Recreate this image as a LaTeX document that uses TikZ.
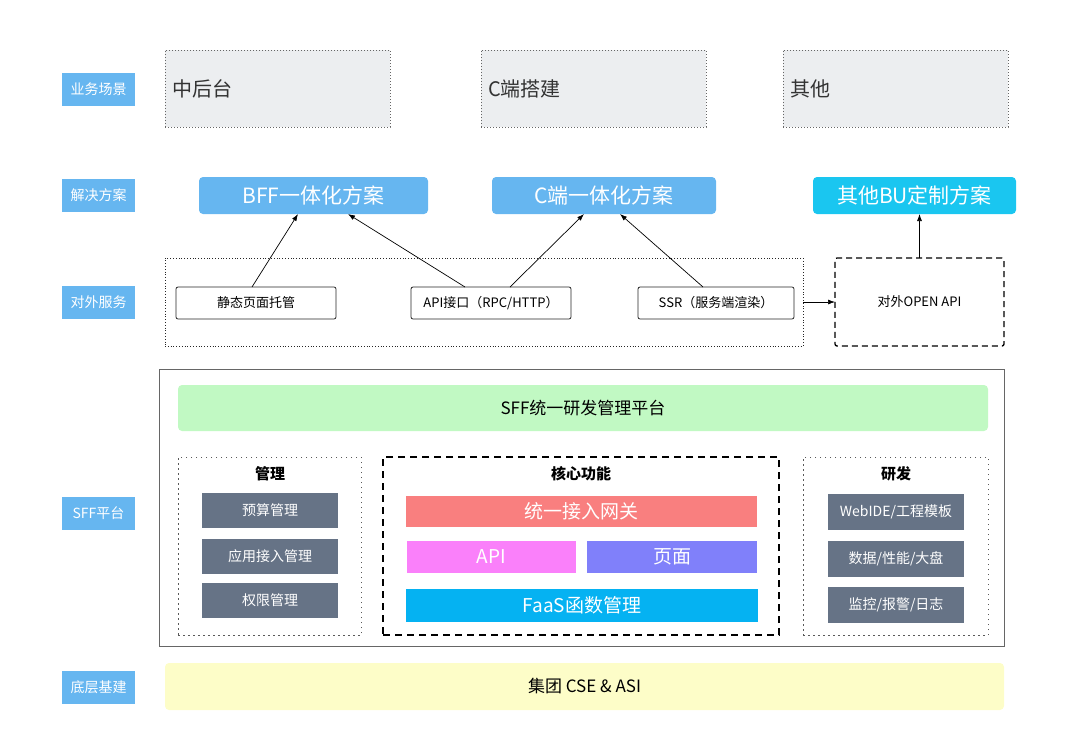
\documentclass[tikz,border=0pt]{standalone}
\usepackage{fontspec}
\setmainfont{Noto Sans CJK SC}
\usetikzlibrary{arrows.meta,calc}
\definecolor{lblue}{HTML}{66B6F0}
\definecolor{cyanb}{HTML}{1AC6F0}
\definecolor{topgray}{HTML}{ECEEF0}
\definecolor{slate}{HTML}{667386}
\definecolor{salmon}{HTML}{F97F7F}
\definecolor{pinkm}{HTML}{FA80FA}
\definecolor{violetb}{HTML}{8080FA}
\definecolor{faasb}{HTML}{05B2F2}
\definecolor{greenb}{HTML}{C1F9C3}
\definecolor{yellowb}{HTML}{FDFDC8}
\definecolor{txtgray}{HTML}{333333}
\newcommand{\fs}[1]{\fontsize{#1}{#1}\selectfont}
\tikzset{
  every node/.style={inner sep=0pt, outer sep=0pt},
  lbl/.style={fill=lblue, text=white, minimum width=73pt, minimum height=33pt, font=\fs{14}},
  scene/.style={draw=gray!80!black, dotted, line width=1pt, fill=topgray, minimum height=77pt, text width=211pt, inner xsep=7pt, align=left, font=\fs{20}, text=txtgray},
  sol/.style={fill=lblue, rounded corners=4pt, minimum height=37pt, text=white, font=\fs{21}},
  svc/.style={draw=black!85, line width=0.8pt, rounded corners=2pt, fill=white, minimum height=32pt, font=\fs{13}},
  grp/.style={draw=gray!70!black, line width=1pt, dash pattern=on 1.5pt off 3.5pt},
  item/.style={fill=slate, text=white, minimum width=136pt, font=\fs{14}},
  core/.style={text=white, font=\fs{19}},
  ttl/.style={font=\bfseries\fs{15}},
  arr/.style={-{Latex[length=7pt,width=5pt]}, line width=0.7pt}
}
\begin{document}
\begin{tikzpicture}[x=1pt,y=-1pt]
\useasboundingbox (0,0) rectangle (1080,748);
% left labels
\node[lbl] (l1) at (98.5,89) {业务场景};
\node[lbl] (l2) at (98.5,195.5) {解决方案};
\node[lbl] (l3) at (98.5,302.5) {对外服务};
\node[lbl] (l4) at (98.5,513.5) {SFF平台};
\node[lbl] (l5) at (98.5,687.5) {底层基建};
% business scenes
\node[scene] (s1) at (277.5,88.5) {中后台};
\node[scene] (s2) at (593.5,88.5) {C端搭建};
\node[scene] (s3) at (895.5,88.5) {其他};
% solutions
\node[sol, minimum width=229pt] (bff) at (313.5,195.5) {BFF一体化方案};
\node[sol, minimum width=224pt] (cend) at (604,195.5) {C端一体化方案};
\node[sol, fill=cyanb, minimum width=203pt] (other) at (914.5,195.5) {其他BU定制方案};
% services
\node[draw=black!85, dotted, line width=0.8pt, minimum width=638pt, minimum height=88pt] (svcbox) at (484,302) {};
\node[svc, minimum width=160pt] (static) at (256,303) {静态页面托管};
\node[svc, minimum width=160pt] (api) at (491,303) {API接口（RPC/HTTP）};
\node[svc, minimum width=156pt] (ssr) at (716,303) {SSR（服务端渲染）};
\node[draw=black, dash pattern=on 6pt off 4pt, line width=1.3pt, rounded corners=2pt, minimum width=169pt, minimum height=88pt, font=\fs{13}] (open) at (919.5,302) {对外OPEN API};
% arrows
\draw[arr] ([xshift=-4pt]static.north) -- ([xshift=-15.5pt]bff.south);
\draw[arr] ([xshift=-26pt]api.north) -- ([xshift=34.5pt]bff.south);
\draw[arr] ([xshift=19pt]api.north) -- ([xshift=-20pt]cend.south);
\draw[arr] ([xshift=-13pt]ssr.north) -- ([xshift=16pt]cend.south);
\draw[arr] (open.north) -- (open.north |- other.south);
\draw[arr] (svcbox.east) -- (open.west);
% SFF platform
\node[draw=gray!80!black, line width=1pt, minimum width=845pt, minimum height=277pt] (sff) at (581.5,507.5) {};
\node[fill=greenb, rounded corners=4pt, minimum width=810pt, minimum height=46pt, font=\fs{17}] (green) at (583,408) {SFF统一研发管理平台};
\node[grp, minimum width=183pt, minimum height=178pt] (mgmt) at (269.5,546) {};
\node[draw=black, line width=1.5pt, dash pattern=on 7pt off 5pt, minimum width=396pt, minimum height=178pt] (coreb) at (581,546) {};
\node[grp, minimum width=185pt, minimum height=178pt] (dev) at (895.5,546) {};
\node[ttl] (t1) at (270,474) {管理};
\node[ttl] (t2) at (581,474) {核心功能};
\node[ttl] (t3) at (896,474) {研发};
\node[item, minimum height=35pt] (m1) at (270,510.5) {预算管理};
\node[item, minimum height=35pt] (m2) at (270,556) {应用接入管理};
\node[item, minimum height=35pt] (m3) at (270,600.5) {权限管理};
\node[item, minimum height=36pt] (d1) at (896,512) {WebIDE/工程模板};
\node[item, minimum height=36pt] (d2) at (896,559) {数据/性能/大盘};
\node[item, minimum height=36pt] (d3) at (896,604.5) {监控/报警/日志};
\node[core, fill=salmon, minimum width=351pt, minimum height=31pt] (gw) at (581.5,511.5) {统一接入网关};
\node[core, fill=pinkm, minimum width=169pt, minimum height=32pt] (capi) at (491.5,557) {API};
\node[core, fill=violetb, minimum width=170pt, minimum height=32pt] (page) at (672,557) {页面};
\node[core, fill=faasb, minimum width=352pt, minimum height=33pt] (faas) at (582,605.5) {FaaS函数管理};
% base
\node[fill=yellowb, rounded corners=4pt, minimum width=839pt, minimum height=47pt, font=\fs{17}] (base) at (584.5,686.5) {集团 CSE \& ASI};
\end{tikzpicture}
\end{document}
